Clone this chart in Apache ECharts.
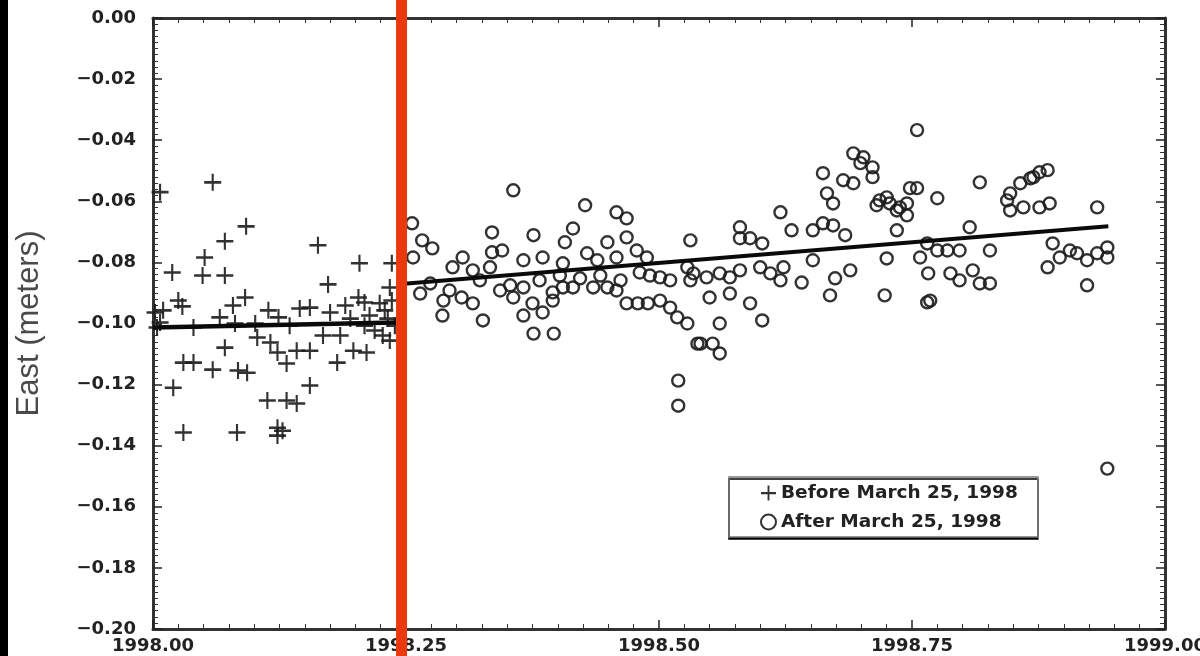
<!DOCTYPE html>
<html>
<head>
<meta charset="utf-8">
<script src="https://cdn.jsdelivr.net/npm/echarts@6/dist/echarts.min.js"></script>
<style>
  html, body { margin: 0; padding: 0; background: #fff; }
  #chart { width: 1200px; height: 656px; }
</style>
</head>
<body>
<div id="chart"></div>
<script>
// East component of GPS station position (metres) vs. decimal year
const xTicks = { min: 1998.0, max: 1999.0, step: 0.25 };
const yTicks = { min: -0.20, max: 0.00, step: 0.02 };

const beforeLabel = 'Before March 25, 1998';
const afterLabel = 'After March 25, 1998';
const yTitle = 'East (meters)';

// vertical marker near the event date
const markerYear = 1998.2456;

// daily solutions before the event
const beforeQuake = [
  [1998.007,-0.0570],[1998.059,-0.0538],[1998.092,-0.0682],[1998.071,-0.0731],[1998.163,-0.0744],
  [1998.051,-0.0784],[1998.019,-0.0833],[1998.049,-0.0843],[1998.071,-0.0843],[1998.204,-0.0803],
  [1998.236,-0.0803],[1998.173,-0.0872],[1998.234,-0.0882],[1998.091,-0.0915],[1998.079,-0.0941],
  [1998.029,-0.0944],[1998.010,-0.0957],[1998.066,-0.0980],[1998.145,-0.0951],[1998.155,-0.0948],
  [1998.124,-0.0980],[1998.175,-0.0964],[1998.203,-0.0915],[1998.224,-0.0934],[1998.040,-0.1013],
  [1998.101,-0.1000],[1998.103,-0.1046],[1998.116,-0.1062],[1998.123,-0.1095],[1998.142,-0.1089],
  [1998.155,-0.1089],[1998.168,-0.1039],[1998.185,-0.1039],[1998.198,-0.1089],[1998.211,-0.1095],
  [1998.227,-0.1039],[1998.234,-0.1056],[1998.182,-0.1128],[1998.071,-0.1079],[1998.030,-0.1128],
  [1998.040,-0.1128],[1998.059,-0.1151],[1998.084,-0.1154],[1998.093,-0.1161],[1998.132,-0.1131],
  [1998.020,-0.1210],[1998.155,-0.1203],[1998.113,-0.1252],[1998.132,-0.1252],[1998.142,-0.1262],
  [1998.030,-0.1357],[1998.083,-0.1357],[1998.123,-0.1341],[1998.123,-0.1367],[1998.128,-0.1351],
  [1998.002,-0.0964],[1998.004,-0.1013],[1998.195,-0.0984],[1998.214,-0.0974],[1998.209,-0.1007],
  [1998.232,-0.0984],[1998.219,-0.1023],[1998.007,-0.0997],[1998.025,-0.0925],[1998.114,-0.0957],
  [1998.135,-0.1007],[1998.081,-0.1000],[1998.190,-0.0941],[1998.236,-0.0925],[1998.239,-0.1007],
  [1998.229,-0.0957],[1998.209,-0.0931]
];

// daily solutions after the event
const afterQuake = [
  [1998.256,-0.0672],[1998.356,-0.0564],[1998.266,-0.0728],[1998.276,-0.0754],[1998.257,-0.0784],
  [1998.264,-0.0902],[1998.286,-0.0974],[1998.326,-0.0990],[1998.296,-0.0816],[1998.306,-0.0784],
  [1998.316,-0.0826],[1998.305,-0.0915],[1998.316,-0.0934],[1998.287,-0.0925],[1998.335,-0.0702],
  [1998.335,-0.0767],[1998.345,-0.0761],[1998.333,-0.0816],[1998.353,-0.0875],[1998.356,-0.0915],
  [1998.366,-0.0793],[1998.366,-0.0882],[1998.376,-0.0711],[1998.385,-0.0784],[1998.375,-0.0934],
  [1998.366,-0.0974],[1998.385,-0.0964],[1998.395,-0.0925],[1998.395,-0.0898],[1998.405,-0.0882],
  [1998.376,-0.1033],[1998.396,-0.1033],[1998.407,-0.0734],[1998.415,-0.0689],[1998.427,-0.0613],
  [1998.405,-0.0803],[1998.429,-0.0770],[1998.415,-0.0882],[1998.422,-0.0852],[1998.439,-0.0793],
  [1998.449,-0.0734],[1998.458,-0.0636],[1998.468,-0.0656],[1998.468,-0.0718],[1998.458,-0.0784],
  [1998.478,-0.0761],[1998.488,-0.0784],[1998.435,-0.0882],[1998.449,-0.0882],[1998.458,-0.0892],
  [1998.468,-0.0934],[1998.479,-0.0934],[1998.489,-0.0934],[1998.501,-0.0925],[1998.511,-0.0948],
  [1998.518,-0.0980],[1998.528,-0.1000],[1998.538,-0.1066],[1998.519,-0.1187],[1998.519,-0.1269],
  [1998.531,-0.0728],[1998.501,-0.0849],[1998.511,-0.0859],[1998.531,-0.0859],[1998.481,-0.0833],
  [1998.274,-0.0869],[1998.293,-0.0892],[1998.323,-0.0859],[1998.343,-0.0892],[1998.382,-0.0859],
  [1998.402,-0.0843],[1998.442,-0.0843],[1998.462,-0.0859],[1998.491,-0.0843],
  [1998.662,-0.0508],[1998.682,-0.0531],[1998.692,-0.0541],[1998.711,-0.0489],[1998.711,-0.0521],
  [1998.699,-0.0475],[1998.666,-0.0574],[1998.672,-0.0607],[1998.620,-0.0636],[1998.580,-0.0685],
  [1998.580,-0.0721],[1998.590,-0.0721],[1998.602,-0.0738],[1998.631,-0.0695],[1998.662,-0.0672],
  [1998.672,-0.0679],[1998.684,-0.0711],[1998.652,-0.0695],[1998.715,-0.0613],[1998.725,-0.0587],
  [1998.748,-0.0557],[1998.755,-0.0557],[1998.745,-0.0607],[1998.745,-0.0646],[1998.735,-0.0630],
  [1998.735,-0.0695],[1998.725,-0.0787],[1998.765,-0.0738],[1998.758,-0.0784],[1998.766,-0.0836],
  [1998.765,-0.0931],[1998.723,-0.0908],[1998.775,-0.0590],[1998.528,-0.0816],[1998.534,-0.0836],
  [1998.547,-0.0849],[1998.560,-0.0836],[1998.570,-0.0849],[1998.580,-0.0826],[1998.550,-0.0915],
  [1998.570,-0.0902],[1998.600,-0.0816],[1998.610,-0.0836],[1998.620,-0.0859],[1998.623,-0.0816],
  [1998.641,-0.0866],[1998.652,-0.0793],[1998.590,-0.0934],[1998.602,-0.0990],[1998.541,-0.1066],
  [1998.553,-0.1066],[1998.560,-0.1098],[1998.560,-0.1000],
  [1998.692,-0.0443],[1998.702,-0.0456],[1998.718,-0.0597],[1998.728,-0.0607],[1998.738,-0.0620],
  [1998.674,-0.0852],[1998.689,-0.0826],[1998.669,-0.0908],
  [1998.817,-0.0538],[1998.847,-0.0574],[1998.857,-0.0541],[1998.867,-0.0525],[1998.876,-0.0505],
  [1998.884,-0.0498],[1998.847,-0.0630],[1998.860,-0.0620],[1998.876,-0.0620],[1998.886,-0.0607],
  [1998.844,-0.0597],[1998.870,-0.0521],[1998.933,-0.0620],[1998.807,-0.0685],[1998.827,-0.0761],
  [1998.775,-0.0761],[1998.785,-0.0761],[1998.797,-0.0761],[1998.788,-0.0836],[1998.797,-0.0859],
  [1998.810,-0.0826],[1998.817,-0.0869],[1998.827,-0.0869],[1998.768,-0.0925],[1998.884,-0.0816],
  [1998.896,-0.0784],[1998.906,-0.0761],[1998.913,-0.0770],[1998.923,-0.0793],[1998.933,-0.0770],
  [1998.943,-0.0751],[1998.943,-0.0784],[1998.889,-0.0738],[1998.923,-0.0875],[1998.943,-0.1475],
  [1998.755,-0.0367]
];

// least-squares trend lines for each period
const beforeFit = [[1998.000,-0.1013],[1998.240,-0.0997]];
const afterFit = [[1998.248,-0.0870],[1998.944,-0.0682]];

const plusPath = 'path://M7,0 L9,0 L9,6.8 L16,6.8 L16,9.2 L9,9.2 L9,16 L7,16 L7,9.2 L0,9.2 L0,6.8 L7,6.8 Z';
const labelFont = 'DejaVu Sans';

function fmtY(v) {
  const s = Math.abs(v).toFixed(2);
  return (v < -1e-9 ? '\u2212' : '') + s;
}

const chart = echarts.init(document.getElementById('chart'), null, { renderer: 'canvas' });

const tickLine = { color: '#222', width: 1.5 };
const minorLine = { color: '#333', width: 1 };
const frameLine = { show: true, onZero: false, lineStyle: { color: '#333', width: 3 } };

chart.setOption({
  animation: false,
  backgroundColor: '#fff',
  grid: { left: 153, right: 35, top: 18, bottom: 27, containLabel: false, outerBoundsMode: 'none' },
  legend: {
    orient: 'vertical',
    left: 729,
    top: 477,
    data: [beforeLabel, afterLabel],
    itemWidth: 15,
    itemHeight: 15,
    itemGap: 9,
    padding: [6, 20, 5, 31],
    backgroundColor: '#fff',
    borderColor: '#777',
    borderWidth: 1.5,
    borderRadius: 0,
    shadowColor: '#000',
    shadowBlur: 0,
    shadowOffsetX: 0,
    shadowOffsetY: 2,
    textStyle: { fontFamily: labelFont, fontWeight: 'bold', fontSize: 18.5, color: '#222', lineHeight: 20 }
  },
  xAxis: [
    {
      type: 'value', position: 'bottom',
      min: xTicks.min, max: xTicks.max, interval: xTicks.step,
      axisLine: frameLine,
      axisTick: { show: true, inside: true, length: 9, lineStyle: tickLine },
      minorTick: { show: true, splitNumber: 10, length: 5, lineStyle: minorLine },
      splitLine: { show: false },
      axisLabel: {
        margin: 8, fontFamily: labelFont, fontWeight: 'bold', fontSize: 18, color: '#222',
        formatter: v => v.toFixed(2)
      }
    },
    {
      type: 'value', position: 'top',
      min: xTicks.min, max: xTicks.max, interval: xTicks.step,
      axisLine: frameLine,
      axisTick: { show: true, inside: true, length: 9, lineStyle: tickLine },
      minorTick: { show: true, splitNumber: 10, length: 5, lineStyle: minorLine },
      splitLine: { show: false },
      axisLabel: { show: false }
    }
  ],
  yAxis: [
    {
      type: 'value', position: 'left',
      min: yTicks.min, max: yTicks.max, interval: yTicks.step,
      name: yTitle,
      nameLocation: 'middle',
      nameRotate: 90,
      nameGap: 108,
      nameTextStyle: { fontFamily: 'Liberation Sans', fontSize: 31, color: '#4a4a4a' },
      axisLine: frameLine,
      axisTick: { show: true, inside: true, length: 9, lineStyle: tickLine },
      minorTick: { show: true, splitNumber: 10, length: 5, lineStyle: minorLine },
      splitLine: { show: false },
      axisLabel: {
        margin: 17, fontFamily: labelFont, fontWeight: 'bold', fontSize: 18, color: '#222',
        formatter: fmtY
      }
    },
    {
      type: 'value', position: 'right',
      min: yTicks.min, max: yTicks.max, interval: yTicks.step,
      axisLine: frameLine,
      axisTick: { show: true, inside: true, length: 9, lineStyle: tickLine },
      minorTick: { show: true, splitNumber: 10, length: 5, lineStyle: minorLine },
      splitLine: { show: false },
      axisLabel: { show: false }
    }
  ],
  series: [
    {
      name: beforeLabel,
      type: 'scatter',
      data: beforeQuake,
      symbol: plusPath,
      symbolSize: 17,
      itemStyle: { color: '#1c1c1c', opacity: 0.9 },
      silent: true
    },
    {
      name: afterLabel,
      type: 'scatter',
      data: afterQuake,
      symbol: 'circle',
      symbolSize: 12,
      itemStyle: { color: 'rgba(0,0,0,0)', borderColor: '#1c1c1c', borderWidth: 2.4, opacity: 0.9 },
      silent: true
    },
    {
      name: 'trend before',
      type: 'line',
      data: beforeFit,
      showSymbol: false,
      symbol: 'none',
      lineStyle: { color: '#0a0a0a', width: 4.5 },
      z: 5,
      silent: true
    },
    {
      name: 'trend after',
      type: 'line',
      data: afterFit,
      showSymbol: false,
      symbol: 'none',
      lineStyle: { color: '#0a0a0a', width: 4 },
      z: 5,
      silent: true
    }
  ]
});

// full-height marker stripe and the dark left edge of the page
const markerX = chart.convertToPixel({ xAxisIndex: 0 }, markerYear);
chart.setOption({
  graphic: [
    { type: 'rect', z: 200, shape: { x: markerX - 5.5, y: 0, width: 11, height: 656 }, style: { fill: '#ea390d' } },
    { type: 'rect', z: 200, shape: { x: 0, y: 0, width: 8, height: 656 }, style: { fill: '#000' } }
  ]
});
</script>
</body>
</html>
